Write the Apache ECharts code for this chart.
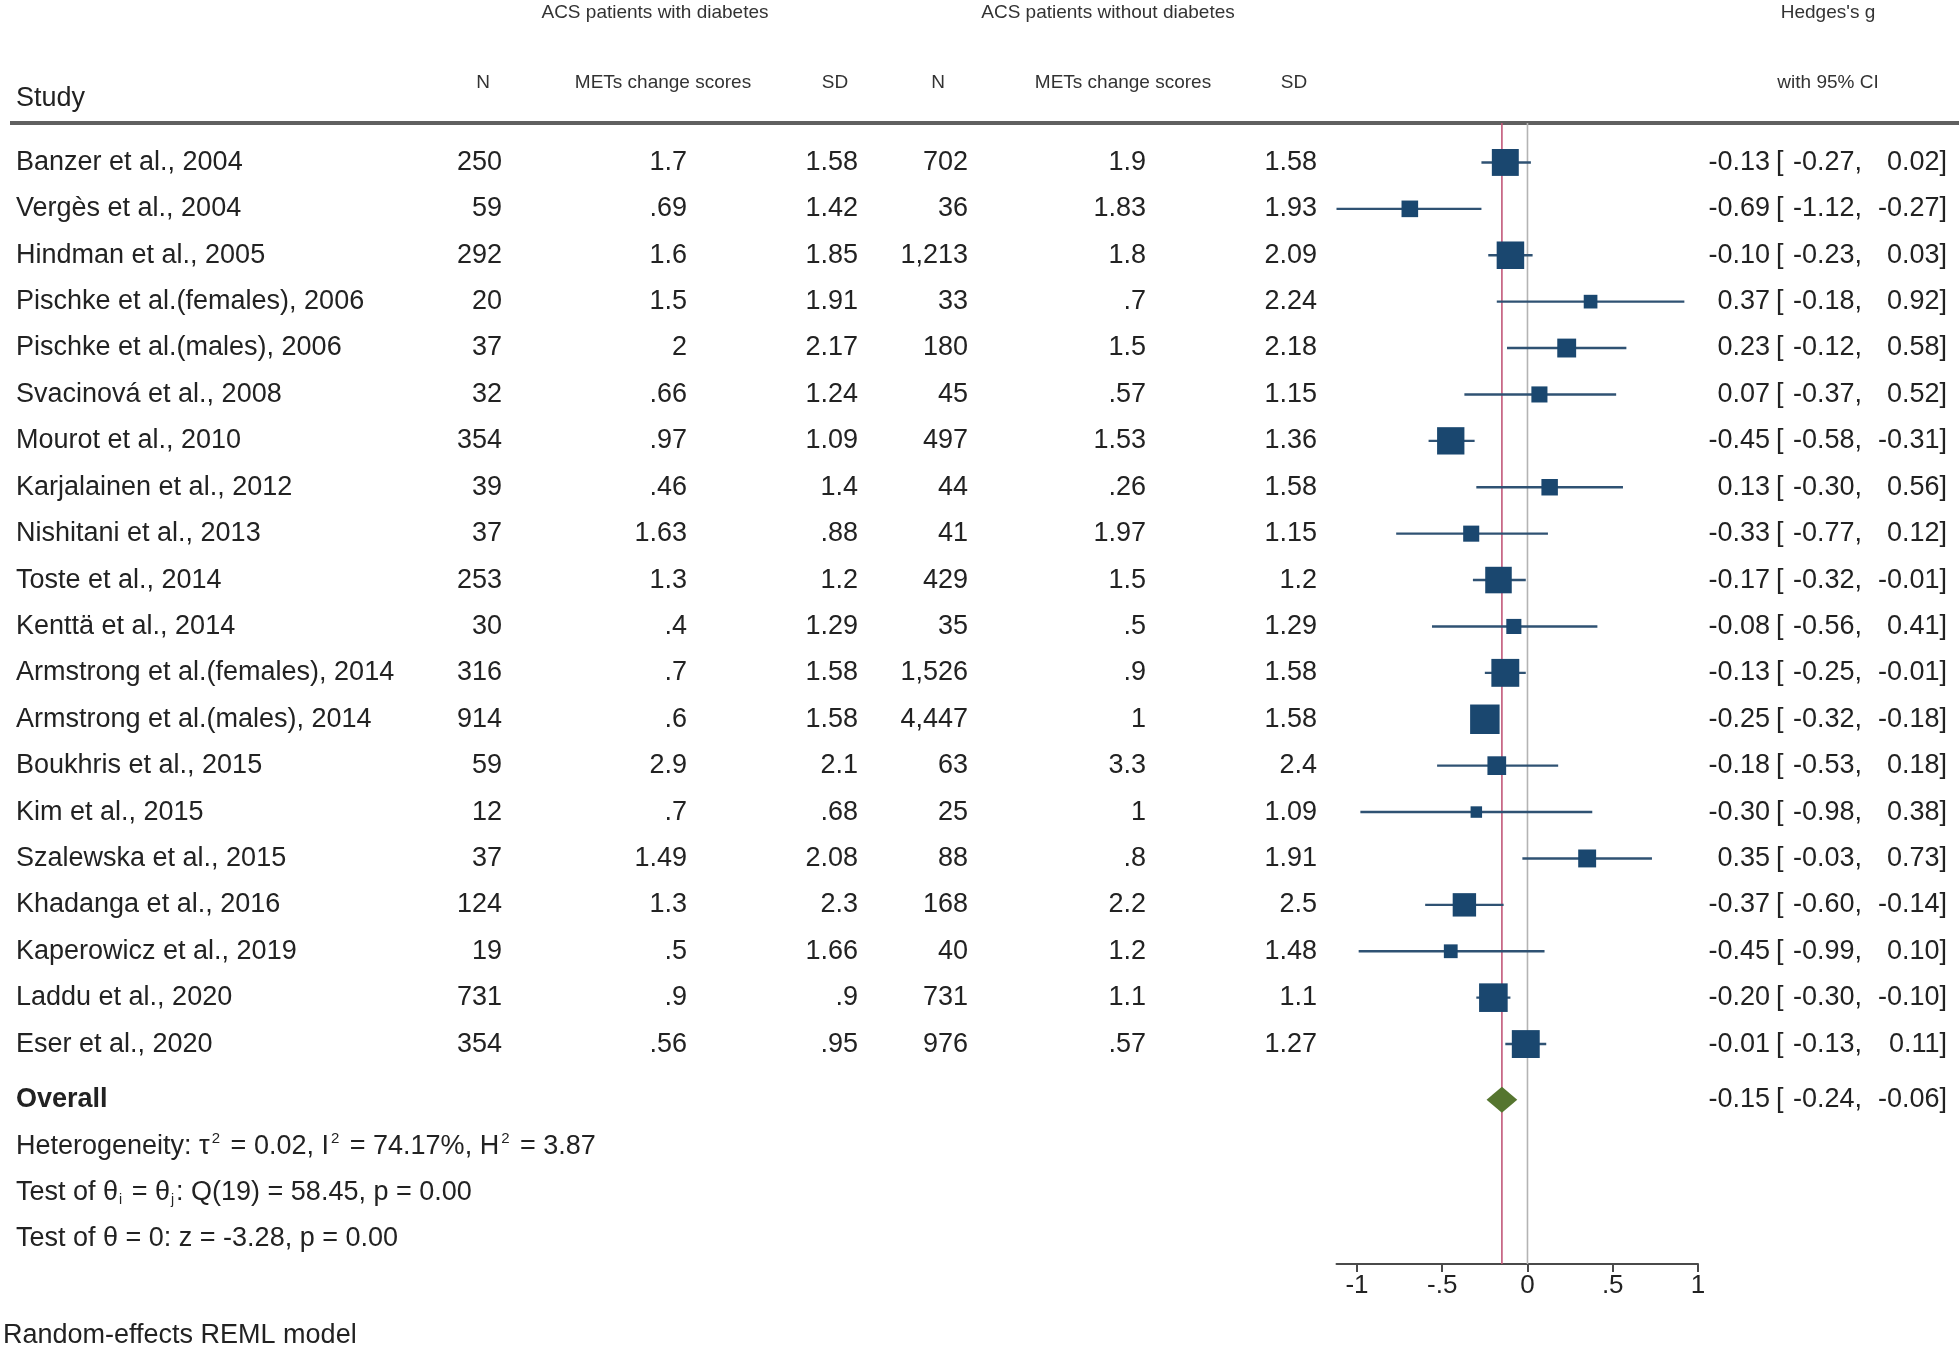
<!DOCTYPE html>
<html>
<head>
<meta charset="utf-8">
<script src="https://cdn.jsdelivr.net/npm/echarts@6/dist/echarts.min.js"></script>
<style>
html,body{margin:0;padding:0;background:#ffffff;}
#chart{width:1959px;height:1352px;}
</style>
</head>
<body>
<div id="chart"></div>
<script>
// ---------------- data ----------------
const studies = [
  "Banzer et al., 2004", "Vergès et al., 2004", "Hindman et al., 2005",
  "Pischke et al.(females), 2006", "Pischke et al.(males), 2006", "Svacinová et al., 2008",
  "Mourot et al., 2010", "Karjalainen et al., 2012", "Nishitani et al., 2013",
  "Toste et al., 2014", "Kenttä et al., 2014", "Armstrong et al.(females), 2014",
  "Armstrong et al.(males), 2014", "Boukhris et al., 2015", "Kim et al., 2015",
  "Szalewska et al., 2015", "Khadanga et al., 2016", "Kaperowicz et al., 2019",
  "Laddu et al., 2020", "Eser et al., 2020"
];
const nDiab   = [250, 59, 292, 20, 37, 32, 354, 39, 37, 253, 30, 316, 914, 59, 12, 37, 124, 19, 731, 354];
const metDiab = [1.7, 0.69, 1.6, 1.5, 2, 0.66, 0.97, 0.46, 1.63, 1.3, 0.4, 0.7, 0.6, 2.9, 0.7, 1.49, 1.3, 0.5, 0.9, 0.56];
const sdDiab  = [1.58, 1.42, 1.85, 1.91, 2.17, 1.24, 1.09, 1.4, 0.88, 1.2, 1.29, 1.58, 1.58, 2.1, 0.68, 2.08, 2.3, 1.66, 0.9, 0.95];
const nNo     = [702, 36, 1213, 33, 180, 45, 497, 44, 41, 429, 35, 1526, 4447, 63, 25, 88, 168, 40, 731, 976];
const metNo   = [1.9, 1.83, 1.8, 0.7, 1.5, 0.57, 1.53, 0.26, 1.97, 1.5, 0.5, 0.9, 1, 3.3, 1, 0.8, 2.2, 1.2, 1.1, 0.57];
const sdNo    = [1.58, 1.93, 2.09, 2.24, 2.18, 1.15, 1.36, 1.58, 1.15, 1.2, 1.29, 1.58, 1.58, 2.4, 1.09, 1.91, 2.5, 1.48, 1.1, 1.27];
const hedgesG = [-0.13, -0.69, -0.10, 0.37, 0.23, 0.07, -0.45, 0.13, -0.33, -0.17, -0.08, -0.13, -0.25, -0.18, -0.30, 0.35, -0.37, -0.45, -0.20, -0.01];
const ciLow   = [-0.27, -1.12, -0.23, -0.18, -0.12, -0.37, -0.58, -0.30, -0.77, -0.32, -0.56, -0.25, -0.32, -0.53, -0.98, -0.03, -0.60, -0.99, -0.30, -0.13];
const ciHigh  = [0.02, -0.27, 0.03, 0.92, 0.58, 0.52, -0.31, 0.56, 0.12, -0.01, 0.41, -0.01, -0.18, 0.18, 0.38, 0.73, -0.14, 0.10, -0.10, 0.11];
const overallG = -0.15, overallLow = -0.24, overallHigh = -0.06;
const tau2 = "0.02", i2 = "74.17%", h2 = "3.87";
const qDf = 19, qStat = "58.45", qP = "0.00";
const zStat = "-3.28", zP = "0.00";
const axisTicks = [-1, -0.5, 0, 0.5, 1];

// ---------------- style ----------------
const FONT = '"Liberation Sans", Arial, Helvetica, sans-serif';
const TXT = '#222222';
const HDR = '#333333';
const SQ = '#1a476f';
const CI = '#2f5273';
const DIAM = '#55752f';
const REF_RED = '#c2587a';
const REF_GREY = '#b4b4b4';
const ROWF = 27, HDRF = 19;

const fmtG = v => String(v).replace(/^0\./, '.').replace(/^-0\./, '-.');
const fmtN = v => v.toLocaleString('en-US');
const fmt2 = v => v.toFixed(2);

const col = {study: 16, n1: 502, m1: 687, s1: 858, n2: 968, m2: 1146, s2: 1317, est: 1770, brk: 1776, lo: 1862, hi: 1947};

function T(x, y, text, align, extra) {
  return {type: 'text', x: x, y: y, silent: true,
    style: Object.assign({text: text, fill: TXT, fontSize: ROWF, fontFamily: FONT,
      align: align, verticalAlign: 'middle'}, extra || {})};
}
function ciTexts(y, g, l, h, extra) {
  return [
    T(col.est, y, fmt2(g), 'right', extra),
    T(col.brk, y, '[', 'left', extra),
    T(col.lo, y, fmt2(l) + ',', 'right', extra),
    T(col.hi, y, fmt2(h) + ']', 'right', extra)
  ];
}

const xMin = Math.min.apply(null, ciLow);
const overallRow = studies.length + 0.2;

const chart = echarts.init(document.getElementById('chart'), null, {renderer: 'canvas'});

const option = {
  animation: false,
  backgroundColor: '#ffffff',
  grid: {left: 1336.5, right: 261, top: 123, bottom: 88, containLabel: false},
  xAxis: {
    type: 'value', min: xMin, max: 1, position: 'bottom',
    axisLine: {show: true, onZero: false, lineStyle: {color: '#4a4a4a', width: 2}},
    axisTick: {show: true, customValues: axisTicks, length: 8, inside: false, lineStyle: {color: '#4a4a4a', width: 2}},
    axisLabel: {customValues: axisTicks, fontSize: 26, color: TXT, fontFamily: FONT, margin: 9,
      formatter: v => v === 0 ? '0' : fmtG(v)},
    splitLine: {show: false}
  },
  yAxis: {type: 'value', inverse: true, min: -0.85, max: 23.74, show: false},
  series: [
    // reference lines: overall estimate and zero
    {
      type: 'custom', z: 1,
      data: [[overallG, 0], [0, 1]],
      renderItem: function (params, api) {
        const cs = params.coordSys;
        const x = api.coord([api.value(0), 0])[0];
        return {type: 'line', shape: {x1: x, y1: cs.y, x2: x, y2: cs.y + cs.height},
          style: {stroke: api.value(1) === 0 ? REF_RED : REF_GREY, lineWidth: 1.6}};
      }
    },
    // study CI lines and weighted squares
    {
      type: 'custom', z: 3,
      data: hedgesG.map((g, i) => [g, i, ciLow[i], ciHigh[i]]),
      renderItem: function (params, api) {
        const row = api.value(1);
        const p = api.coord([api.value(0), row]);
        const pl = api.coord([api.value(2), row]);
        const ph = api.coord([api.value(3), row]);
        const se = (api.value(3) - api.value(2)) / 3.92;
        const w = 1 / (se * se + parseFloat(tau2));
        const s = 4.3 * Math.sqrt(w);
        return {type: 'group', children: [
          {type: 'line', shape: {x1: pl[0], y1: p[1], x2: ph[0], y2: p[1]}, style: {stroke: CI, lineWidth: 2.4}},
          {type: 'rect', shape: {x: p[0] - s / 2, y: p[1] - s / 2, width: s, height: s}, style: {fill: SQ}}
        ]};
      }
    },
    // table rows
    {
      type: 'custom', z: 2,
      data: studies.map((s, i) => [0, i]),
      renderItem: function (params, api) {
        const i = params.dataIndex;
        const y = api.coord([0, api.value(1)])[1];
        return {type: 'group', children: [
          T(col.study, y, studies[i], 'left'),
          T(col.n1, y, fmtN(nDiab[i]), 'right'),
          T(col.m1, y, fmtG(metDiab[i]), 'right'),
          T(col.s1, y, fmtG(sdDiab[i]), 'right'),
          T(col.n2, y, fmtN(nNo[i]), 'right'),
          T(col.m2, y, fmtG(metNo[i]), 'right'),
          T(col.s2, y, fmtG(sdNo[i]), 'right')
        ].concat(ciTexts(y, hedgesG[i], ciLow[i], ciHigh[i]))};
      }
    },
    // overall diamond + summary text
    {
      type: 'custom', z: 4,
      data: [[overallG, overallRow, overallLow, overallHigh]],
      renderItem: function (params, api) {
        const row = api.value(1);
        const p = api.coord([api.value(0), row]);
        const pl = api.coord([api.value(2), row]);
        const ph = api.coord([api.value(3), row]);
        const h = 13;
        const y = p[1];
        const step = api.size([0, 1])[1];
        const rich = {
          sup: {fontSize: 15, fontFamily: FONT, fill: TXT, lineHeight: 22, verticalAlign: 'top', padding: [0, 3, 0, 2]},
          sub: {fontSize: 14, fontFamily: FONT, fill: TXT, lineHeight: 18, verticalAlign: 'bottom', padding: [0, 2, 0, 1]}
        };
        const rx = {rich: rich, lineHeight: 30};
        return {type: 'group', children: [
          {type: 'polygon', shape: {points: [[pl[0], y], [p[0], y - h], [ph[0], y], [p[0], y + h]]}, style: {fill: DIAM}},
          T(col.study, y, 'Overall', 'left', {fontWeight: 'bold'}),
          T(col.study, y + step, 'Heterogeneity: τ{sup|2} = ' + tau2 + ', I{sup|2} = ' + i2 + ', H{sup|2} = ' + h2, 'left', rx),
          T(col.study, y + 2 * step, 'Test of θ{sub|i} = θ{sub|j}: Q(' + qDf + ') = ' + qStat + ', p = ' + qP, 'left', rx),
          T(col.study, y + 3 * step, 'Test of θ = 0: z = ' + zStat + ', p = ' + zP, 'left')
        ].concat(ciTexts(y, api.value(0), api.value(2), api.value(3)))};
      }
    }
  ],
  graphic: [
    {type: 'text', x: 655, y: 13, style: {text: 'ACS patients with diabetes', fill: HDR, fontSize: HDRF, fontFamily: FONT, align: 'center', verticalAlign: 'middle'}},
    {type: 'text', x: 1108, y: 13, style: {text: 'ACS patients without diabetes', fill: HDR, fontSize: HDRF, fontFamily: FONT, align: 'center', verticalAlign: 'middle'}},
    {type: 'text', x: 1828, y: 13, style: {text: "Hedges's g", fill: HDR, fontSize: HDRF, fontFamily: FONT, align: 'center', verticalAlign: 'middle'}},
    {type: 'text', x: 483, y: 83, style: {text: 'N', fill: HDR, fontSize: HDRF, fontFamily: FONT, align: 'center', verticalAlign: 'middle'}},
    {type: 'text', x: 663, y: 83, style: {text: 'METs change scores', fill: HDR, fontSize: HDRF, fontFamily: FONT, align: 'center', verticalAlign: 'middle'}},
    {type: 'text', x: 835, y: 83, style: {text: 'SD', fill: HDR, fontSize: HDRF, fontFamily: FONT, align: 'center', verticalAlign: 'middle'}},
    {type: 'text', x: 938, y: 83, style: {text: 'N', fill: HDR, fontSize: HDRF, fontFamily: FONT, align: 'center', verticalAlign: 'middle'}},
    {type: 'text', x: 1123, y: 83, style: {text: 'METs change scores', fill: HDR, fontSize: HDRF, fontFamily: FONT, align: 'center', verticalAlign: 'middle'}},
    {type: 'text', x: 1294, y: 83, style: {text: 'SD', fill: HDR, fontSize: HDRF, fontFamily: FONT, align: 'center', verticalAlign: 'middle'}},
    {type: 'text', x: 1828, y: 83, style: {text: 'with 95% CI', fill: HDR, fontSize: HDRF, fontFamily: FONT, align: 'center', verticalAlign: 'middle'}},
    {type: 'text', x: 16, y: 99, style: {text: 'Study', fill: TXT, fontSize: ROWF, fontFamily: FONT, align: 'left', verticalAlign: 'middle'}},
    {type: 'line', shape: {x1: 10, y1: 123, x2: 1959, y2: 123}, style: {stroke: '#606060', lineWidth: 4}},
    {type: 'text', x: 3, y: 1336, style: {text: 'Random-effects REML model', fill: TXT, fontSize: ROWF, fontFamily: FONT, align: 'left', verticalAlign: 'middle'}}
  ]
};
chart.setOption(option);
</script>
</body>
</html>
